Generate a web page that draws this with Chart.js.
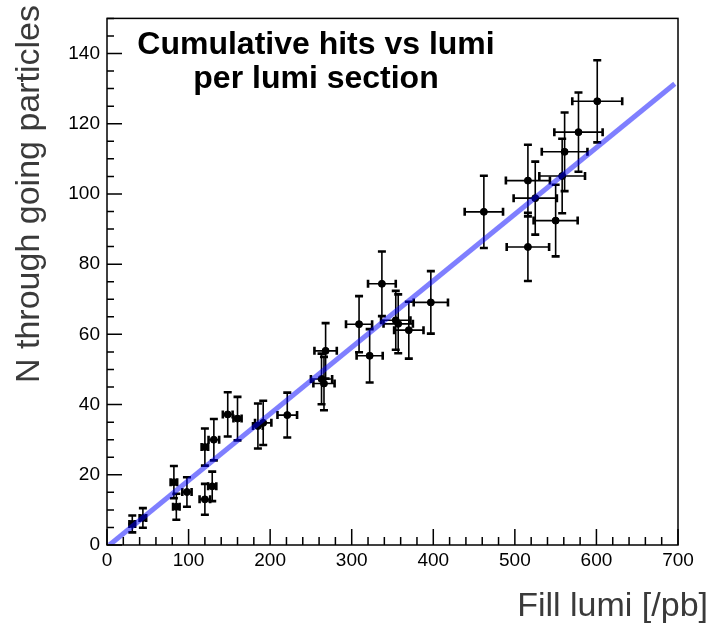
<!DOCTYPE html>
<html>
<head>
<meta charset="utf-8">
<script src="https://cdn.jsdelivr.net/npm/chart.js@4"></script>
<style>
  html, body { margin: 0; padding: 0; background: #fff; }
  canvas { display: block; }
</style>
</head>
<body>
<canvas id="lumiChart" width="709" height="634"></canvas>
<script>
// Fill lumi per lumi section and the hits counted in it
const lumi    = [31, 44, 82, 85, 98, 120, 129, 120, 131, 148, 160, 185, 191.5, 221,
                 268, 263, 266, 309, 322, 337, 354, 357, 370, 397,
                 462, 516, 516, 525, 550, 558, 561, 578, 601];
const hits    = [6.0, 7.7, 17.9, 10.9, 15.1, 13.0, 16.7, 27.9, 30.0, 37.2, 36.0, 33.9, 34.8, 37.0,
                 55.3, 47.3, 46.0, 62.9, 53.9, 74.4, 64.0, 63.0, 61.2, 69.1,
                 94.9, 84.9, 103.8, 98.8, 92.4, 105.1, 112.0, 117.6, 126.4];
const lumiErr = [3.5, 4, 4, 4, 5.7, 6.5, 5, 4, 6.5, 6, 5, 6, 10, 12,
                 13.7, 13, 13, 16, 16, 17, 18, 18, 18, 21,
                 23.5, 26, 27, 26.5, 27, 28, 28, 29.6, 30.6];
const hitsErr = [2.4, 2.8, 4.6, 3.7, 4.2, 4.4, 4.2, 5.3, 5.9, 6.3, 6.2, 6.4, 6.3, 6.4,
                 7.9, 7.2, 7.6, 8.0, 7.6, 9.2, 8.4, 8.4, 8.1, 8.9,
                 10.3, 9.7, 10.2, 10.4, 10.2, 10.6, 11.2, 11.3, 11.7];

// straight-line fit, read at its two ends
const fitLumi = [3, 696];
const fitHits = [0, 131.4];

const xMinorStep = 20, xMajorStep = 100;
const yMinorStep = 5,  yMajorStep = 20;

const points  = lumi.map((x, i) => ({ x: x, y: hits[i] }));
const fitLine = fitLumi.map((x, i) => ({ x: x, y: fitHits[i] }));

// error bars with end caps, under the markers
const errorBars = {
    id: 'errorBars',
    beforeDatasetsDraw(chart) {
        const { ctx, scales: { x, y } } = chart;
        const cap = 4;
        ctx.save();
        ctx.strokeStyle = '#000';
        lumi.forEach((lx, i) => {
            const px = x.getPixelForValue(lx);
            const py = y.getPixelForValue(hits[i]);
            const x0 = x.getPixelForValue(lx - lumiErr[i]);
            const x1 = x.getPixelForValue(lx + lumiErr[i]);
            const y0 = y.getPixelForValue(hits[i] - hitsErr[i]);
            const y1 = y.getPixelForValue(hits[i] + hitsErr[i]);
            ctx.lineWidth = 1.6;
            ctx.beginPath();
            ctx.moveTo(x0, py); ctx.lineTo(x1, py);
            ctx.moveTo(px, y0); ctx.lineTo(px, y1);
            ctx.stroke();
            ctx.lineWidth = 2.6;
            ctx.beginPath();
            ctx.moveTo(x0, py - cap); ctx.lineTo(x0, py + cap);
            ctx.moveTo(x1, py - cap); ctx.lineTo(x1, py + cap);
            ctx.moveTo(px - cap, y0); ctx.lineTo(px + cap, y0);
            ctx.moveTo(px - cap, y1); ctx.lineTo(px + cap, y1);
            ctx.stroke();
        });
        ctx.restore();
    }
};

// ROOT style frame: box, inward ticks, titles
const frameTicks = {
    id: 'frameTicks',
    afterDraw(chart) {
        const { ctx, chartArea: a, scales: { x, y } } = chart;
        ctx.save();
        ctx.strokeStyle = '#000';
        ctx.lineWidth = 1.5;
        ctx.strokeRect(a.left, a.top, a.right - a.left, a.bottom - a.top);

        ctx.beginPath();
        for (let v = x.min; v <= x.max; v += xMinorStep) {
            const px = x.getPixelForValue(v);
            const len = v % xMajorStep === 0 ? 16 : 8;
            ctx.moveTo(px, a.bottom);
            ctx.lineTo(px, a.bottom - len);
        }
        for (let v = y.min; v <= y.max; v += yMinorStep) {
            const py = y.getPixelForValue(v);
            const len = v % yMajorStep === 0 ? 15 : 7;
            ctx.moveTo(a.left, py);
            ctx.lineTo(a.left + len, py);
        }
        ctx.stroke();

        // plot title inside the frame
        ctx.fillStyle = '#000';
        ctx.font = 'bold 32px "Liberation Sans", Arial, sans-serif';
        ctx.textAlign = 'center';
        ctx.textBaseline = 'middle';
        ctx.fillText('Cumulative hits vs lumi', 316, 45);
        ctx.fillText('per lumi section', 316, 79);

        // axis titles, aligned to the far end like ROOT
        ctx.fillStyle = '#3a3a3a';
        ctx.font = '34px "Liberation Sans", Arial, sans-serif';
        ctx.textAlign = 'right';
        ctx.fillText('Fill lumi [/pb]', 708, 607);

        ctx.translate(30, 5);
        ctx.rotate(-Math.PI / 2);
        ctx.fillText('N through going particles', 0, 0);
        ctx.restore();
    }
};

const ctx = document.getElementById('lumiChart').getContext('2d');
const lumiChart = new Chart(ctx, {
    type: 'scatter',
    data: {
        datasets: [{
            type: 'line',
            data: fitLine,
            borderColor: 'rgba(0, 0, 255, 0.5)',
            borderWidth: 5,
            pointRadius: 0,
            fill: false,
            order: 0
        }, {
            data: points,
            backgroundColor: '#000',
            borderColor: '#000',
            pointRadius: 3.5,
            order: 1
        }]
    },
    options: {
        responsive: false,
        animation: false,
        devicePixelRatio: 1,
        layout: { padding: { top: 8, right: 31, left: 0, bottom: 0 } },
        plugins: {
            legend: { display: false },
            tooltip: { enabled: false }
        },
        scales: {
            x: {
                type: 'linear',
                min: 0,
                max: 700,
                grid: { display: false, drawTicks: false },
                border: { display: false },
                ticks: {
                    stepSize: xMajorStep,
                    padding: 4,
                    color: '#000',
                    maxRotation: 0,
                    font: { family: '"Liberation Sans", Arial, sans-serif', size: 19 }
                },
                afterFit: s => { s.height = 89; }
            },
            y: {
                type: 'linear',
                min: 0,
                max: 150,
                grid: { display: false, drawTicks: false },
                border: { display: false },
                ticks: {
                    stepSize: yMajorStep,
                    padding: 7,
                    color: '#000',
                    font: { family: '"Liberation Sans", Arial, sans-serif', size: 19 }
                },
                afterBuildTicks: s => { s.ticks = s.ticks.filter(t => t.value % yMajorStep === 0); },
                afterFit: s => { s.width = 107; }
            }
        }
    },
    plugins: [errorBars, frameTicks]
});
</script>
</body>
</html>
